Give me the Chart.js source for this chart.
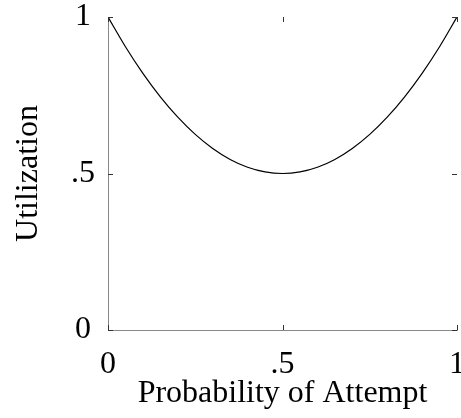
<!DOCTYPE html>
<html>
<head>
<meta charset="utf-8">
<script src="https://cdn.jsdelivr.net/npm/chart.js@4/dist/chart.umd.min.js"></script>
<style>
  html, body { margin: 0; padding: 0; background: #fff; }
  #wrap { width: 461px; height: 418px; }
</style>
</head>
<body>
<div id="wrap"><canvas id="c" width="461" height="418"></canvas></div>
<script>
// Probability of attempt (x) and resulting utilization (y)
const attemptProb = [0, 0.05, 0.1, 0.15, 0.2, 0.25, 0.3, 0.35, 0.4, 0.45, 0.5,
                     0.55, 0.6, 0.65, 0.7, 0.75, 0.8, 0.85, 0.9, 0.95, 1];
const utilization = [1, 0.905, 0.82, 0.745, 0.68, 0.625, 0.58, 0.545, 0.52, 0.505, 0.5,
                     0.505, 0.52, 0.545, 0.58, 0.625, 0.68, 0.745, 0.82, 0.905, 1];
const xTickValues = [0, 0.5, 1];
const xTickLabels = ['0', '.5', '1'];
const yTickValues = [0, 0.5, 1];
const yTickLabels = ['0', '.5', '1'];

const FONT = { family: "'Liberation Serif', 'DejaVu Serif', serif", size: 32 };

function labelFor(values, labels, v) {
  const i = values.findIndex(t => Math.abs(t - v) < 1e-9);
  return i >= 0 ? labels[i] : '';
}

// Short inward tick marks on all four sides of the plot area
const innerTicks = {
  id: 'innerTicks',
  afterDatasetsDraw(chart) {
    const { ctx, chartArea: a, scales: { x, y } } = chart;
    const len = 5;
    ctx.save();
    ctx.strokeStyle = '#333';
    ctx.lineWidth = 1;
    ctx.beginPath();
    xTickValues.forEach(v => {
      const px = Math.round(x.getPixelForValue(v)) + 0.5;
      ctx.moveTo(px, a.bottom); ctx.lineTo(px, a.bottom - len);
      ctx.moveTo(px, a.top); ctx.lineTo(px, a.top + len);
    });
    yTickValues.forEach(v => {
      const py = Math.round(y.getPixelForValue(v)) + 0.5;
      ctx.moveTo(a.left, py); ctx.lineTo(a.left + len, py);
      ctx.moveTo(a.right, py); ctx.lineTo(a.right - len, py);
    });
    ctx.stroke();
    ctx.restore();
  }
};

new Chart(document.getElementById('c'), {
  type: 'scatter',
  data: {
    datasets: [{
      data: attemptProb.map((p, i) => ({ x: p, y: utilization[i] })),
      showLine: true,
      borderColor: '#000',
      borderWidth: 1.2,
      pointRadius: 0,
      cubicInterpolationMode: 'monotone',
      fill: false
    }]
  },
  options: {
    responsive: false,
    animation: false,
    devicePixelRatio: 1,
    layout: { padding: { left: 0, right: 4, top: 17, bottom: 0 } },
    plugins: { legend: { display: false }, tooltip: { enabled: false } },
    scales: {
      x: {
        type: 'linear',
        min: 0, max: 1,
        afterBuildTicks: s => { s.ticks = xTickValues.map(v => ({ value: v })); },
        afterFit: s => { s.height = 88; s.paddingLeft = 0; s.paddingRight = 0; },
        grid: { display: true, drawOnChartArea: false, drawTicks: false },
        border: { display: true, color: '#888', width: 1, dash: [1, 1] },
        ticks: {
          color: '#000', font: FONT, padding: 15, maxRotation: 0,
          callback: v => labelFor(xTickValues, xTickLabels, v)
        },
        title: { display: true, text: 'Probability of Attempt', color: '#000', font: FONT, padding: { top: 0, bottom: 5 } }
      },
      y: {
        type: 'linear',
        min: 0, max: 1,
        afterBuildTicks: s => { s.ticks = yTickValues.map(v => ({ value: v })); },
        afterFit: s => { s.width = 108; s.paddingTop = 0; s.paddingBottom = 0; },
        grid: { display: true, drawOnChartArea: false, drawTicks: false },
        border: { display: true, color: '#888', width: 1, dash: [1, 1] },
        ticks: {
          color: '#000', font: FONT, padding: 13, crossAlign: 'center',
          callback: v => labelFor(yTickValues, yTickLabels, v)
        },
        title: { display: true, text: 'Utilization', color: '#000', font: FONT, padding: { top: 9, bottom: 0 } }
      }
    }
  },
  plugins: [innerTicks]
});
</script>
</body>
</html>
